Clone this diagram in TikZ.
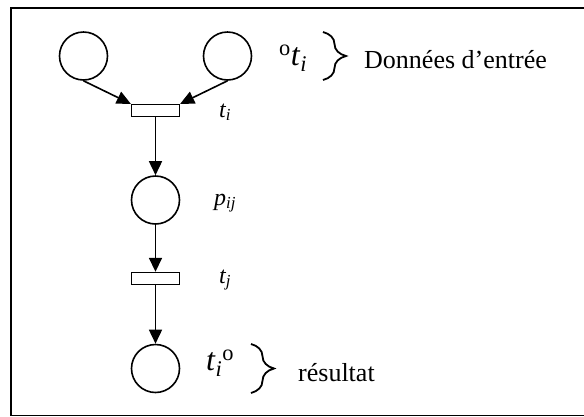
\documentclass[tikz,border=0pt]{standalone}
\usepackage{fontspec}
\setmainfont{Liberation Serif}
\usetikzlibrary{arrows.meta,decorations.pathreplacing}

\tikzset{
  place/.style={circle,draw,line width=1.6pt,minimum size=48pt,inner sep=0pt},
  trans/.style={rectangle,draw,line width=1.4pt,minimum width=48pt,minimum height=12pt,inner sep=0pt},
  arc/.style={line width=1.6pt,-{Triangle[length=14pt,width=13pt]}},
  lbl/.style={font=\fontsize{24}{24}\selectfont\itshape,anchor=base west,inner sep=0pt},
  txt/.style={font=\fontsize{26}{26}\selectfont,anchor=base west,inner sep=0pt},
  accol/.style={decorate,decoration={brace,amplitude=23pt},line width=1.8pt},
}

\begin{document}
\begin{tikzpicture}[x=1pt,y=-1pt]
  \useasboundingbox (0,0) rectangle (584,416);
  \draw[line width=1.6pt] (11,8) rectangle (590,415.5);

  % places and transitions
  \node[place] (pa) at (83.5,56) {};
  \node[place] (pb) at (227.5,56) {};
  \node[trans] (ti) at (155.5,110.5) {};
  \node[place] (pij) at (155.5,200) {};
  \node[trans] (tj) at (155.5,278.5) {};
  \node[place] (pout) at (155.5,368.5) {};

  % arcs
  \draw[arc] (pa.south) -- (ti.north west);
  \draw[arc] (pb.south) -- (ti.north east);
  \draw[arc] (ti.south) -- (pij.north);
  \draw[arc] (pij.south) -- (tj.north);
  \draw[arc] (tj.south) -- (pout.north);

  % labels
  \node[lbl] (lti) at (219,117) {t\textsubscript{i}};
  \node[lbl] (lpij) at (214,205) {p\textsubscript{ij}};
  \node[lbl] (ltj) at (219,283) {t\textsubscript{j}};
  \node[txt,font=\fontsize{32}{32}\selectfont] (pre) at (279,65)
    {\textsuperscript{o}\textit{t}\textsubscript{\textit{i}}};
  \node[txt,font=\fontsize{32}{32}\selectfont] (post) at (206,370)
    {\textit{t}\textsubscript{\textit{i}}\textsuperscript{o}};

  % braces
  \draw[accol] (323,32) -- (323,80);
  \draw[accol] (251,344) -- (251,393);
  \node[txt] (entree) at (364,68) {Données d’entrée};
  \node[txt] (res) at (298,381) {résultat};
\end{tikzpicture}
\end{document}
